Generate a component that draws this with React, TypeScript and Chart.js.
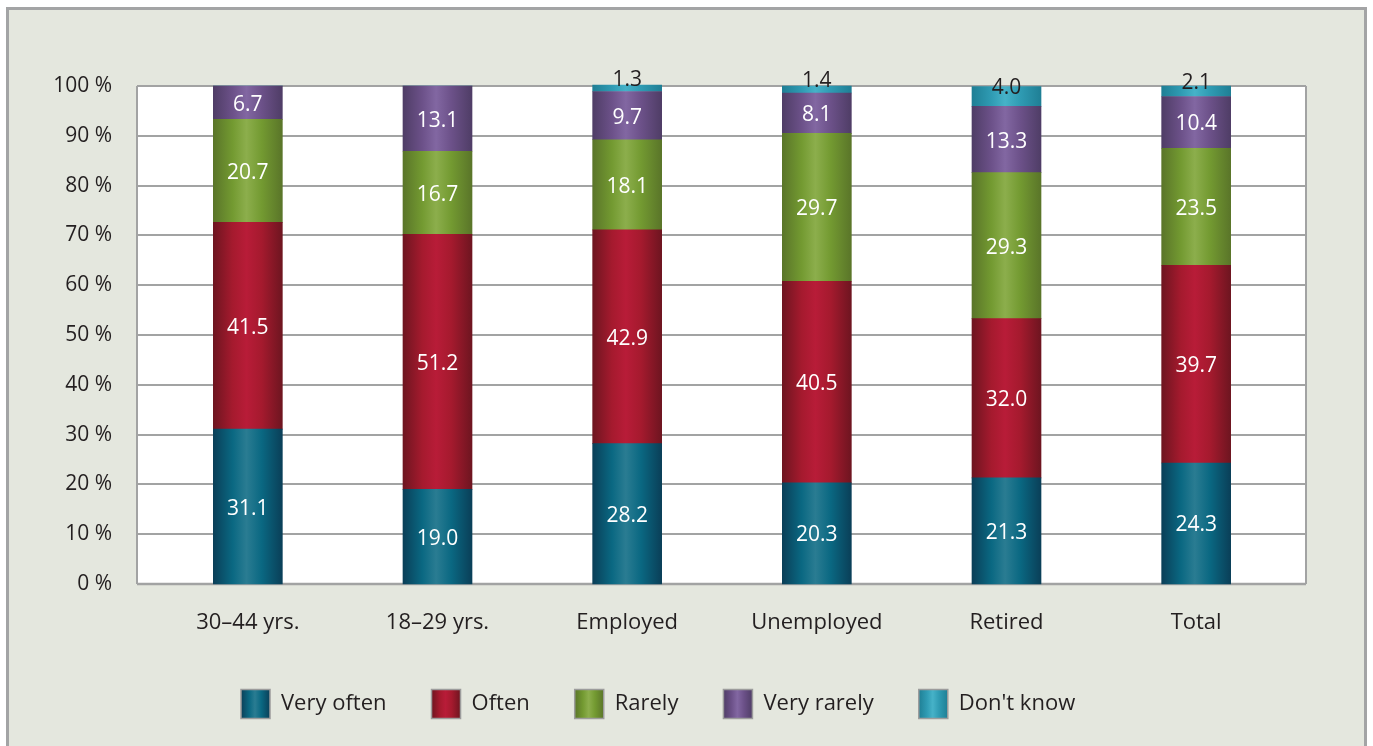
import { useEffect, useRef } from "react";
import { Chart, registerables } from "chart.js";

Chart.register(...registerables);

const categories = ["30–44 yrs.", "18–29 yrs.", "Employed", "Unemployed", "Retired", "Total"];
const seriesNames = ["Very often", "Often", "Rarely", "Very rarely", "Don't know"];
const veryOften = [31.1, 19.0, 28.2, 20.3, 21.3, 24.3];
const often = [41.5, 51.2, 42.9, 40.5, 32.0, 39.7];
const rarely = [20.7, 16.7, 18.1, 29.7, 29.3, 23.5];
const veryRarely = [6.7, 13.1, 9.7, 8.1, 13.3, 10.4];
const dontKnow = [0, 0, 1.3, 1.4, 4.0, 2.1];
const yTicks = [0, 10, 20, 30, 40, 50, 60, 70, 80, 90, 100];

const FONT = "'Open Sans', 'Noto Sans', sans-serif";
const TEXT = "#231f20";
const LINE = "#a2a3a3";
const BAR_W = 69;

type Pal = { dark: string; main: string; light: string };
const palettes: Pal[] = [
  { dark: "#0a3f58", main: "#0a6882", light: "#2a7c92" },
  { dark: "#6e1520", main: "#a51a2e", light: "#b81c38" },
  { dark: "#5a7529", main: "#739a31", light: "#8cae4c" },
  { dark: "#4f3d66", main: "#6c5189", light: "#8267a2" },
  { dark: "#1f7f95", main: "#2f9bb3", light: "#46b2c8" },
];

function grad(c: CanvasRenderingContext2D, x0: number, x1: number, p: Pal) {
  const g = c.createLinearGradient(x0, 0, x1, 0);
  g.addColorStop(0, p.dark);
  g.addColorStop(0.28, p.main);
  g.addColorStop(0.48, p.light);
  g.addColorStop(0.7, p.main);
  g.addColorStop(1, p.dark);
  return g;
}

const makeBg = (p: Pal) => (ctx: any) => {
  const chart = ctx.chart;
  const xs = chart.scales && chart.scales.x;
  if (!xs || ctx.dataIndex == null || !chart.chartArea) return p.main;
  const cx = xs.getPixelForValue(ctx.dataIndex);
  return grad(chart.ctx, cx - BAR_W / 2, cx + BAR_W / 2, p);
};

const framePlugin = {
  id: "frame",
  beforeDraw(chart: any) {
    const c = chart.ctx as CanvasRenderingContext2D;
    c.save();
    c.fillStyle = "#ffffff";
    c.fillRect(0, 0, chart.width, chart.height);
    c.fillStyle = "#e4e7de";
    c.fillRect(7, 8, 1358, 800);
    c.strokeStyle = "#a3a4a5";
    c.lineWidth = 3;
    c.strokeRect(7.5, 8.5, 1358, 800);
    c.restore();
  },
  beforeDatasetsDraw(chart: any) {
    const c = chart.ctx as CanvasRenderingContext2D;
    const a = chart.chartArea;
    const y = chart.scales.y;
    const left = a.left - 16;
    const right = a.right + 15;
    const top = y.getPixelForValue(100);
    const bottom = y.getPixelForValue(0);
    c.save();
    c.fillStyle = "#ffffff";
    c.fillRect(left, top, right - left, bottom - top);
    c.strokeStyle = LINE;
    c.lineWidth = 2;
    yTicks.forEach((t) => {
      const py = Math.round(y.getPixelForValue(t));
      c.beginPath();
      c.moveTo(left, py);
      c.lineTo(right, py);
      c.stroke();
    });
    c.lineWidth = 2.5;
    c.beginPath();
    c.moveTo(left, bottom);
    c.lineTo(right, bottom);
    c.stroke();
    c.lineWidth = 2;
    c.beginPath();
    c.moveTo(left, top);
    c.lineTo(left, bottom);
    c.moveTo(right, top);
    c.lineTo(right, bottom);
    c.stroke();
    c.restore();
  },
  afterDatasetsDraw(chart: any) {
    const c = chart.ctx as CanvasRenderingContext2D;
    c.save();
    c.font = `21px ${FONT}`;
    c.textAlign = "center";
    c.textBaseline = "middle";
    chart.data.datasets.forEach((ds: any, di: number) => {
      const meta = chart.getDatasetMeta(di);
      meta.data.forEach((el: any, i: number) => {
        const v = ds.data[i];
        if (!v) return;
        const cy = (el.y + el.base) / 2;
        const last = di === chart.data.datasets.length - 1;
        c.fillStyle = last ? TEXT : "#ffffff";
        c.fillText(v.toFixed(1), el.x, last ? cy - 8 : cy + 2);
      });
    });
    c.restore();
  },
  afterDraw(chart: any) {
    const c = chart.ctx as CanvasRenderingContext2D;
    const a = chart.chartArea;
    const box = 29;
    const gapText = 11;
    const gapItem = 45;
    let x = a.left + 88;
    const cy = a.bottom + 120;
    c.save();
    c.font = `22px ${FONT}`;
    c.textBaseline = "middle";
    c.textAlign = "left";
    chart.data.datasets.forEach((ds: any, di: number) => {
      const p = palettes[di];
      c.fillStyle = grad(c, x, x + box, p);
      c.fillRect(x, cy - box / 2, box, box);
      c.strokeStyle = "#9c9c9c";
      c.lineWidth = 1.5;
      c.strokeRect(x, cy - box / 2, box, box);
      const tx = x + box + gapText;
      c.fillStyle = TEXT;
      c.fillText(ds.label, tx, cy);
      x = tx + c.measureText(ds.label).width + gapItem;
    });
    c.restore();
  },
};

export default function App() {
  const ref = useRef<HTMLCanvasElement>(null);
  useEffect(() => {
    if (!ref.current) return;
    const seriesData = [veryOften, often, rarely, veryRarely, dontKnow];
    const chart = new Chart(ref.current, {
      type: "bar",
      data: {
        labels: categories,
        datasets: seriesData.map((d, i) => ({
          label: seriesNames[i],
          data: d,
          backgroundColor: makeBg(palettes[i]),
          borderWidth: 0,
          barThickness: BAR_W,
          clip: false as any,
        })),
      },
      options: {
        responsive: false,
        animation: false,
        devicePixelRatio: 1,
        layout: { padding: { left: 0, right: 82, top: 86, bottom: 112 } },
        plugins: { legend: { display: false }, tooltip: { enabled: false } },
        scales: {
          x: {
            stacked: true,
            grid: { display: false, drawTicks: false },
            border: { display: false },
            ticks: {
              color: TEXT,
              font: { family: FONT, size: 22 },
              padding: 26,
              autoSkip: false,
              maxRotation: 0,
            },
            afterFit: (s: any) => {
              s.height = 50;
            },
          },
          y: {
            stacked: true,
            min: 0,
            max: 100,
            grid: { display: false, drawTicks: false },
            border: { display: false },
            ticks: {
              stepSize: 10,
              color: TEXT,
              font: { family: FONT, size: 21 },
              padding: 41,
              callback: (v: any) => `${v} %`,
            },
            afterFit: (s: any) => {
              s.width = 153;
            },
          },
        },
      },
      plugins: [framePlugin],
    });
    return () => chart.destroy();
  }, []);
  return (
    <div style={{ position: "fixed", left: 0, top: 0, width: 1373, height: 746 }}>
      <canvas ref={ref} width={1373} height={746} style={{ display: "block" }} />
    </div>
  );
}
